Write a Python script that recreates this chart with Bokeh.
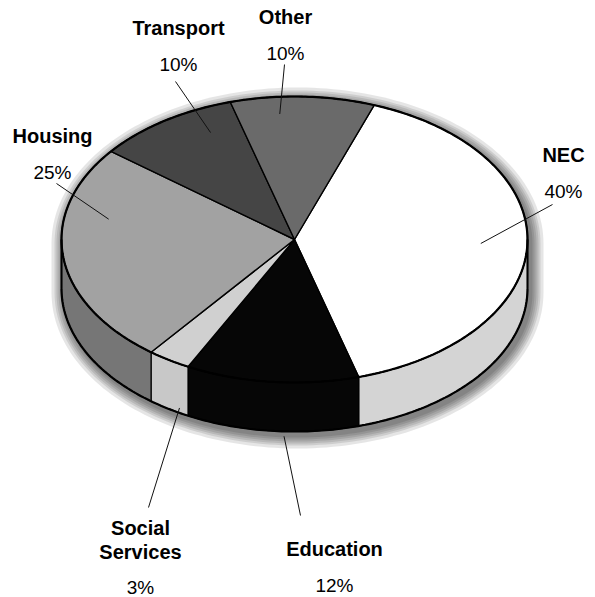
import numpy as np
from bokeh.plotting import figure
from bokeh.models import Range1d
from bokeh.core.properties import value
from bokeh.embed import file_html
from bokeh.resources import INLINE

# ---------------- data ----------------
categories = ["NEC", "Education", "Social Services", "Housing", "Transport", "Other"]
shares = [40, 12, 3, 25, 10, 10]
name_labels = ["NEC", "Education", "Social\nServices", "Housing", "Transport", "Other"]
pct_labels = [f"{v}%" for v in shares]

# ---------------- style / layout ----------------
top_colors = ["#ffffff", "#060606", "#d0d0d0", "#a2a2a2", "#454545", "#6a6a6a"]
side_colors = ["#d4d4d4", "#060606", "#c8c8c8", "#767676", "#333333", "#555555"]
CX, CY, RX, RY, DEPTH = 294.0, 239.0, 233.0, 143.0, 49.0
START = 20.0  # degrees, clockwise from 12 o'clock
# label block centre (x, y of first line) -- layout only
label_pos = [(563, 154), (334, 548), (140, 527), (52, 135), (178, 27), (285, 16)]
# where the leader leaves the label block (offset from name centre)
leader_out = [(-11, 50), (-34, -33), (8, -20), (4, 48), (-3, 54), (-1, 48)]
# anchor of leader inside slice: (fraction of slice sweep, radius factor, on side?)
leader_in = [(0.5, 0.80, None), (0.43, 1.0, 1.1), (0.22, 1.0, 0.9),
             (0.69, 0.81, None), (0.73, 0.83, None), (0.33, 0.88, None)]

FONT = value("Liberation Sans")


def ell(t_deg, k=1.0, dy=0.0, cx=CX, cy=CY, rx=RX, ry=RY):
    t = np.radians(t_deg)
    return cx + rx * k * np.sin(t), cy - ry * k * np.cos(t) + dy


total = float(sum(shares))
bounds = [START]
for v in shares:
    bounds.append(bounds[-1] + 360.0 * v / total)

p = figure(width=595, height=597, x_range=Range1d(0, 595), y_range=Range1d(597, 0),
           toolbar_location=None, output_backend="svg", min_border=0,
           x_axis_location=None, y_axis_location=None)
p.grid.visible = False
p.outline_line_color = None
p.background_fill_color = "white"
p.border_fill_color = "white"

# ---------------- soft shadow ----------------
for e in [13, 10, 8, 6, 4, 2]:
    tt1 = np.linspace(-90, 90, 120)
    tt2 = np.linspace(90, 270, 120)
    x1, y1 = ell(tt1, cx=CX + 3, cy=CY + 4, rx=RX + e, ry=RY + e)
    x2, y2 = ell(tt2, dy=DEPTH, cx=CX + 3, cy=CY + 4, rx=RX + e, ry=RY + e)
    p.patch(np.concatenate([x1, x2]), np.concatenate([y1, y2]),
            fill_color="black", fill_alpha=0.1, line_color=None)

# ---------------- side walls (front half) ----------------
for i in range(len(shares)):
    a, b = bounds[i], bounds[i + 1]
    lo, hi = max(a, 90.0), min(b, 270.0)
    if lo < hi:
        tt = np.linspace(lo, hi, 80)
        xt, yt = ell(tt)
        xb, yb = ell(tt[::-1], dy=DEPTH)
        p.patch(np.concatenate([xt, xb]), np.concatenate([yt, yb]),
                fill_color=side_colors[i], line_color="black", line_width=1.2)

# ---------------- top faces ----------------
for i in range(len(shares)):
    a, b = bounds[i], bounds[i + 1]
    tt = np.linspace(a, b, 120)
    xt, yt = ell(tt)
    p.patch(np.concatenate([[CX], xt]), np.concatenate([[CY], yt]),
            fill_color=top_colors[i], line_color="black", line_width=1.4)

# ---------------- outer outline ----------------
tt = np.linspace(0, 360, 400)
xo, yo = ell(tt)
p.line(xo, yo, line_color="black", line_width=2.2)
tt = np.linspace(90, 270, 200)
xo, yo = ell(tt, dy=DEPTH)
p.line(xo, yo, line_color="black", line_width=2.2)
for t in (90.0, 270.0):
    x0, y0 = ell(t)
    p.line([x0, x0], [y0, y0 + DEPTH], line_color="black", line_width=2.0)

# ---------------- leaders & labels ----------------
for i in range(len(shares)):
    a, b = bounds[i], bounds[i + 1]
    frac, kr, side = leader_in[i]
    t = a + frac * (b - a)
    if side is None:
        xi, yi = ell(t, k=kr)
    else:
        xi, yi = ell(t, dy=DEPTH * side)
    lx, ly = label_pos[i]
    ox, oy = leader_out[i]
    p.line([lx + ox, xi], [ly + oy, yi], line_color="#111111", line_width=1.0)

    lines = name_labels[i].split("\n")
    for j, s in enumerate(lines):
        p.text([lx], [ly + 24 * j], text=[s], text_font=FONT, text_font_style="bold",
               text_font_size="20px", text_align="center", text_baseline="middle",
               text_color="black")
    py = ly + 24 * (len(lines) - 1) + (37 if len(lines) == 1 else 36)
    p.text([lx], [py], text=[pct_labels[i]], text_font=FONT, text_font_style="normal",
           text_font_size="19px", text_align="center", text_baseline="middle",
           text_color="black")

open("out.html", "w").write(file_html(p, INLINE))
